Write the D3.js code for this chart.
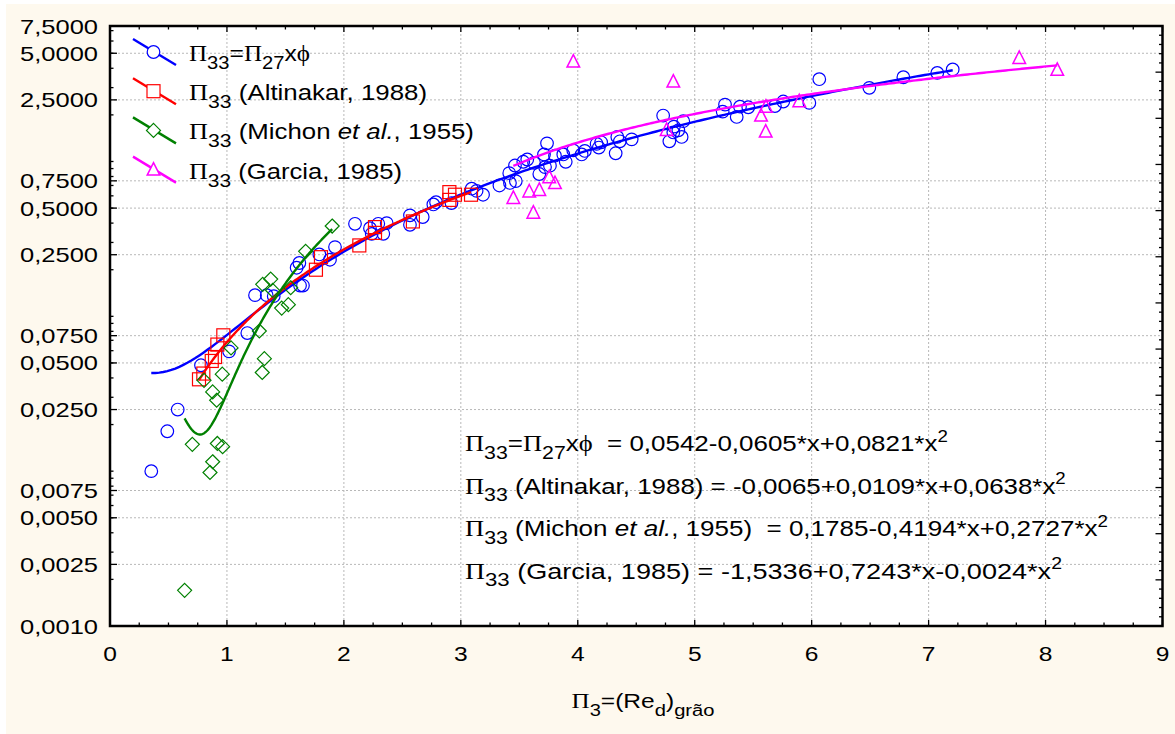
<!DOCTYPE html>
<html><head><meta charset="utf-8">
<script src="https://cdn.jsdelivr.net/npm/d3@7"></script>
<style>
body{margin:0;background:#fff;}
svg text{font-family:"Liberation Sans",Arial,sans-serif;fill:#000;white-space:pre;}
</style>
</head><body>
<svg id="chart" width="1175" height="734"></svg>
<script>
// ---------------- DATA ----------------
const xTickValues = [0,1,2,3,4,5,6,7,8,9];
const xTickLabels = ["0","1","2","3","4","5","6","7","8","9"];
const yTickValues = [0.001,0.0025,0.005,0.0075,0.025,0.05,0.075,0.25,0.5,0.75,2.5,5,7.5];
const yTickLabels = ["0,0010","0,0025","0,0050","0,0075","0,0250","0,0500","0,0750","0,2500","0,5000","0,7500","2,5000","5,0000","7,5000"];

// Π33 = Π27 x φ  (blue circles)
const phiX = [0.353,0.49,0.579,0.778,1.018,1.174,1.24,1.34,1.40,1.596,1.619,1.625,1.65,1.79,1.881,1.924,2.095,2.223,2.238,2.294,2.337,2.366,2.565,2.565,2.674,2.765,2.788,2.92,3.093,3.135,3.19,3.33,3.414,3.42,3.47,3.463,3.534,3.568,3.626,3.671,3.711,3.737,3.72,3.762,3.805,3.876,3.897,3.961,4.033,4.06,4.161,4.2,4.18,4.324,4.338,4.36,4.461,4.73,4.783,4.822,4.817,4.888,4.86,4.902,5.259,5.239,5.359,5.387,5.458,5.686,5.757,5.98,6.065,6.493,6.784,7.074,7.206];
const phiY = [0.010,0.0181,0.025,0.0483,0.0594,0.078,0.137,0.137,0.135,0.206,0.221,0.158,0.158,0.251,0.232,0.28,0.396,0.371,0.341,0.396,0.341,0.40,0.449,0.39,0.438,0.528,0.546,0.539,0.667,0.646,0.61,0.70,0.841,0.727,0.747,0.942,0.996,1.03,0.98,0.83,1.11,1.31,0.92,0.94,1.09,1.11,0.996,1.18,1.11,1.17,1.30,1.33,1.23,1.13,1.44,1.35,1.39,1.98,1.35,1.68,1.54,1.44,1.59,1.82,2.33,2.10,1.94,2.26,2.24,2.28,2.44,2.39,3.40,2.99,3.50,3.73,3.93];

// Altinakar, 1988 (red squares)
const altX = [0.761,0.798,0.87,0.898,0.918,0.969,1.761,1.804,2.132,2.266,2.266,2.59,2.902,2.95,2.902,3.087];
const altY = [0.0392,0.0427,0.0515,0.0546,0.0657,0.0754,0.20,0.241,0.287,0.377,0.346,0.41,0.634,0.61,0.565,0.61];

// Michon et al., 1955 (green diamonds)
const micX = [0.638,0.704,0.804,0.855,0.878,0.878,0.912,0.918,0.96,0.963,1.035,1.277,1.302,1.32,1.306,1.374,1.391,1.468,1.525,1.545,1.673,1.90];
const micY = [0.0017,0.0149,0.0386,0.0098,0.0115,0.0325,0.0287,0.0151,0.0423,0.0144,0.0625,0.0804,0.0434,0.0533,0.161,0.174,0.147,0.113,0.119,0.153,0.263,0.383];

// Garcia, 1985 (magenta triangles)
const garX = [3.449,3.62,3.585,3.671,3.756,3.805,3.962,4.76,4.817,5.567,5.609,5.607,5.894,7.775,8.10];
const garY = [0.582,0.467,0.64,0.655,0.792,0.725,4.42,1.60,3.28,1.98,2.26,1.56,2.45,4.66,3.91];

// Quadratic fit coefficients shown on the chart (a + b*x + c*x^2)
const coefPhi = [0.0542,-0.0605,0.0821];
const coefAlt = [-0.0065,0.0109,0.0638];
const coefMic = [0.1785,-0.4194,0.2727];
const coefGar = [-1.5336,0.7243,-0.0024];

// ---------------- LAYOUT ----------------
const W = 1175, H = 734;
const L = 110, R = 1162.5, T = 26, B = 626;
const SX = 1.17; // default horizontal text stretch
const svg = d3.select("#chart");

svg.append("rect").attr("x",6).attr("y",4).attr("width",W-6).attr("height",H-4).attr("fill","#FEF9EE");
svg.append("rect").attr("x",L).attr("y",T).attr("width",R-L).attr("height",B-T).attr("fill","#fff");

const x = d3.scaleLinear().domain([0,9]).range([L,R]);
const y = d3.scaleLog().domain([0.001,7.5]).range([B,T]);

// grid
const grid = svg.append("g").attr("stroke","#b8b8b8").attr("stroke-width",1).attr("stroke-dasharray","2,2");
xTickValues.filter(v=>v>0&&v<9).forEach(v=>{
  grid.append("line").attr("x1",x(v)).attr("x2",x(v)).attr("y1",T).attr("y2",B);
});
yTickValues.filter(v=>v>0.001&&v<7.5).forEach(v=>{
  grid.append("line").attr("x1",L).attr("x2",R).attr("y1",y(v)).attr("y2",y(v));
});

// ticks
const tk = svg.append("g").attr("stroke","#000").attr("stroke-width",1.3);
d3.range(0,9.001,0.25).forEach(v=>{
  const major = Math.abs(v-Math.round(v))<1e-6;
  const len = major?6:3.5;
  tk.append("line").attr("x1",x(v)).attr("x2",x(v)).attr("y1",B).attr("y2",B-len);
  tk.append("line").attr("x1",x(v)).attr("x2",x(v)).attr("y1",T).attr("y2",T+len);
});
y.ticks().forEach(v=>{
  tk.append("line").attr("x1",L).attr("x2",L+3.5).attr("y1",y(v)).attr("y2",y(v));
});
yTickValues.forEach(v=>{
  tk.append("line").attr("x1",L).attr("x2",L+7).attr("y1",y(v)).attr("y2",y(v));
});
const yRight = d3.scaleLinear().domain([0,65]).range([B,T]);
d3.range(0,65.01,1).forEach(v=>{
  const len = v%5===0?7:3.5;
  tk.append("line").attr("x1",R).attr("x2",R-len).attr("y1",yRight(v)).attr("y2",yRight(v));
});

// frame
svg.append("rect").attr("x",L).attr("y",T).attr("width",R-L).attr("height",B-T)
  .attr("fill","none").attr("stroke","#000").attr("stroke-width",2.5);

// rich text helper; if rightEdge given, stretch horizontally so the text ends there
function rich(parent, px, py, parts, size, anchor, rightEdge){
  const t = parent.append("text")
    .attr("transform",`translate(${px},${py}) scale(${SX},1)`)
    .attr("font-size",size).attr("text-anchor",anchor||"start");
  let shift = 0;
  parts.forEach(p=>{
    const s = t.append("tspan").text(p.t);
    let target = 0, fs = size;
    if(p.sub){ target = size*0.36; fs = size*0.82; }
    if(p.sup){ target = -size*0.42; fs = size*0.72; }
    s.attr("font-size",fs).attr("dy",target-shift);
    shift = target;
    if(p.serif) s.style("font-family","'Liberation Serif','Times New Roman',serif").attr("font-size", fs*1.02);
    if(p.italic) s.attr("font-style","italic");
  });
  if(rightEdge!==undefined){
    const bb = t.node().getBBox();
    const sx = (rightEdge-px)/(bb.x+bb.width);
    t.attr("transform",`translate(${px},${py}) scale(${sx},1)`);
  }
  return t;
}

// tick labels
const lab = svg.append("g");
yTickValues.forEach((v,i)=>{
  const t = lab.append("text").attr("text-anchor","end").attr("font-size",21).text(yTickLabels[i]);
  const w = t.node().getBBox().width;
  t.attr("transform",`translate(98,${y(v)+7.5}) scale(${78/w},1)`);
});
xTickValues.forEach((v,i)=>{
  lab.append("text").attr("transform",`translate(${x(v)},${661}) scale(${SX},1)`)
    .attr("text-anchor","middle").attr("font-size",21).text(xTickLabels[i]);
});

// axis title
rich(svg, 643, 708, [
  {t:"Π",serif:true},{t:"3",sub:true},{t:"=(Re"},{t:"d",sub:true},{t:")"},{t:"grão",sub:true}
], 21, "middle");

// series
const colors = ["#0000ff","#ff0000","#008000","#ff00ff"];
const series = [
  {xs:phiX, ys:phiY, coef:coefPhi, c:colors[0], m:"circle"},
  {xs:altX, ys:altY, coef:coefAlt, c:colors[1], m:"square"},
  {xs:micX, ys:micY, coef:coefMic, c:colors[2], m:"diamond"},
  {xs:garX, ys:garY, coef:coefGar, c:colors[3], m:"triangle"}
];

function marker(g, type, cx, cy, color, fill){
  if(type==="circle"){
    g.append("circle").attr("cx",cx).attr("cy",cy).attr("r",6.3)
      .attr("fill",fill).attr("stroke",color).attr("stroke-width",1.2);
  } else if(type==="square"){
    g.append("rect").attr("x",cx-6.5).attr("y",cy-6.5).attr("width",13).attr("height",13)
      .attr("fill",fill).attr("stroke",color).attr("stroke-width",1.2);
  } else if(type==="diamond"){
    const d=7;
    g.append("path").attr("d",`M${cx},${cy-d}L${cx+d},${cy}L${cx},${cy+d}L${cx-d},${cy}Z`)
      .attr("fill",fill).attr("stroke",color).attr("stroke-width",1.2);
  } else {
    g.append("path").attr("d",`M${cx},${cy-7}L${cx+6.3},${cy+5.5}L${cx-6.3},${cy+5.5}Z`)
      .attr("fill",fill).attr("stroke",color).attr("stroke-width",1.5);
  }
}

const line = d3.line().x(d=>x(d[0])).y(d=>y(d[1]));
series.forEach(s=>{
  const g = svg.append("g");
  s.xs.forEach((xv,i)=> marker(g, s.m, x(xv), y(s.ys[i]), s.c, "none"));
  const x0 = d3.min(s.xs), x1 = d3.max(s.xs);
  const pts = d3.range(0,201).map(k=>{
    const xv = x0 + (x1-x0)*k/200;
    return [xv, s.coef[0]+s.coef[1]*xv+s.coef[2]*xv*xv];
  });
  g.append("path").datum(pts).attr("d",line).attr("fill","none")
    .attr("stroke",s.c).attr("stroke-width",2.4);
});

// legend
const legendParts = [
  [{t:"Π",serif:true},{t:"33",sub:true},{t:"="},{t:"Π",serif:true},{t:"27",sub:true},{t:"x"},{t:"ϕ",serif:true}],
  [{t:"Π",serif:true},{t:"33",sub:true},{t:" (Altinakar, 1988)"}],
  [{t:"Π",serif:true},{t:"33",sub:true},{t:" (Michon "},{t:"et al.",italic:true},{t:", 1955)"}],
  [{t:"Π",serif:true},{t:"33",sub:true},{t:" (Garcia, 1985)"}]
];
const legendRight = [310, 427, 474, 402];
const lg = svg.append("g");
series.forEach((s,i)=>{
  const cy = 52 + i*39.2;
  lg.append("line").attr("x1",133).attr("y1",cy-13).attr("x2",176).attr("y2",cy+13)
    .attr("stroke",s.c).attr("stroke-width",2.4);
  marker(lg, s.m, 153.5, cy, s.c, "#fff");
  rich(lg, 189, cy+9, legendParts[i], 22, "start", legendRight[i]);
});

// equations
const eqParts = [
  [{t:"Π",serif:true},{t:"33",sub:true},{t:"="},{t:"Π",serif:true},{t:"27",sub:true},{t:"x"},{t:"ϕ",serif:true},{t:"  = 0,0542-0,0605*x+0,0821*x"},{t:"2",sup:true}],
  [{t:"Π",serif:true},{t:"33",sub:true},{t:" (Altinakar, 1988) = -0,0065+0,0109*x+0,0638*x"},{t:"2",sup:true}],
  [{t:"Π",serif:true},{t:"33",sub:true},{t:" (Michon "},{t:"et al.",italic:true},{t:", 1955)  = 0,1785-0,4194*x+0,2727*x"},{t:"2",sup:true}],
  [{t:"Π",serif:true},{t:"33",sub:true},{t:" (Garcia, 1985) = -1,5336+0,7243*x-0,0024*x"},{t:"2",sup:true}]
];
const eqRight = [948, 1066, 1108, 1062];
eqParts.forEach((p,i)=> rich(svg, 465, 451 + i*42.5, p, 22, "start", eqRight[i]));
</script>
</body></html>
